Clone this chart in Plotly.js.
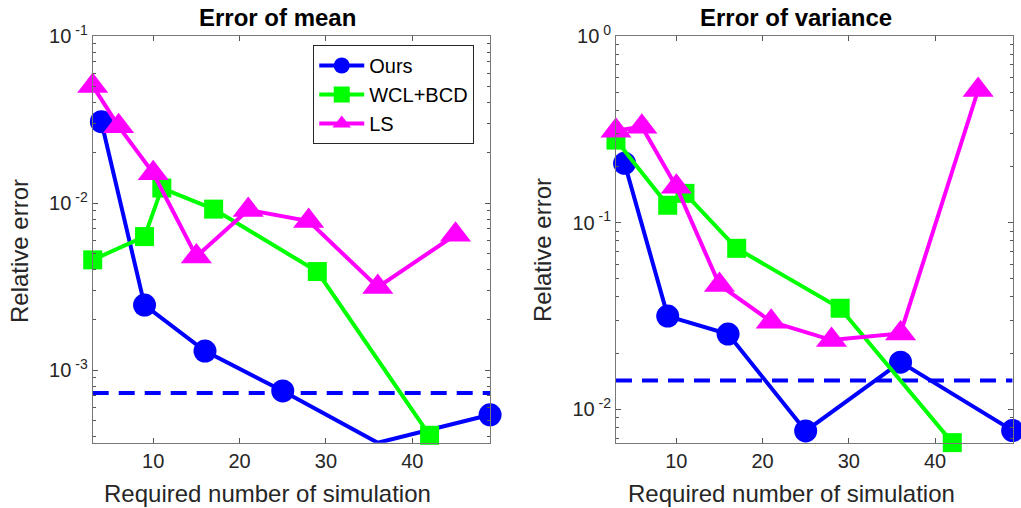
<!DOCTYPE html>
<html>
<head>
<meta charset="utf-8">
<script src="https://cdn.plot.ly/plotly-3.0.1.min.js"></script>
<style>html,body{margin:0;padding:0;background:#fff;}#chart{width:1021px;height:508px;}</style>
</head>
<body>
<div id="chart"></div>
<script>
// ---- data ----
const seriesNames = ["Ours", "WCL+BCD", "LS"];
const oursX = [4, 9, 16, 25, 36, 49];
const wclX  = [3, 9, 11, 17, 29, 42];
const lsX   = [3, 6, 10, 15, 21, 28, 36, 45];

const meanOurs = [0.0307, 0.00245, 0.0013, 0.00075, 0.000367, 0.00054];
const meanWcl  = [0.00457, 0.0063, 0.0123, 0.0092, 0.00389, 0.000407];
const meanLs   = [0.0503, 0.0288, 0.0151, 0.00479, 0.0091, 0.0078, 0.00314, 0.00646];
const meanRef  = 0.00073;

const varOurs = [0.208, 0.0316, 0.0253, 0.00766, 0.0179, 0.00769];
const varWcl  = [0.277, 0.124, 0.1436, 0.0729, 0.0348, 0.00663];
const varLs   = [0.311, 0.327, 0.156, 0.0464, 0.0295, 0.0235, 0.0255, 0.514];
const varRef  = 0.01425;

const xRange = [3, 49];
const xTicks = [10, 20, 30, 40];
const meanYTicks = [0.001, 0.01, 0.1];
const meanYTickText = ["10<sup> -3</sup>", "10<sup> -2</sup>", "10<sup> -1</sup>"];
const varYTicks = [0.01, 0.1, 1];
const varYTickText = ["10<sup> -2</sup>", "10<sup> -1</sup>", "10<sup> 0</sup>"];
const titles = ["Error of mean", "Error of variance"];
const xTitle = "Required number of simulation";
const yTitle = "Relative error";

// ---- style ----
const BLUE = "#0000ff", GREEN = "#00ff00", MAGENTA = "#ff00ff";
const FONT = "Liberation Sans, Arial, Helvetica, sans-serif";

function series(x, y, name, color, symbol, size, xa, ya, show) {
  return {
    x: x, y: y, name: name, xaxis: xa, yaxis: ya, showlegend: show, legendgroup: name,
    mode: "lines+markers", cliponaxis: false,
    line: {color: color, width: 4},
    marker: {color: color, symbol: symbol, size: size, line: {width: 0}}
  };
}
function refLine(val, xa, ya) {
  return {
    x: xRange, y: [val, val], xaxis: xa, yaxis: ya, showlegend: false, mode: "lines",
    line: {color: BLUE, width: 4, dash: "16px,10px"}, hoverinfo: "skip"
  };
}

const data = [
  refLine(meanRef, "x", "y"),
  series(oursX, meanOurs, seriesNames[0], BLUE, "circle", 23, "x", "y", true),
  series(wclX, meanWcl, seriesNames[1], GREEN, "square", 19, "x", "y", true),
  series(lsX, meanLs, seriesNames[2], MAGENTA, "triangle-up", 27, "x", "y", true),
  refLine(varRef, "x2", "y2"),
  series(oursX, varOurs, seriesNames[0], BLUE, "circle", 23, "x2", "y2", false),
  series(wclX, varWcl, seriesNames[1], GREEN, "square", 19, "x2", "y2", false),
  series(lsX, varLs, seriesNames[2], MAGENTA, "triangle-up", 27, "x2", "y2", false)
];

function minorTicks(logRange) {
  const out = [];
  for (let e = Math.floor(logRange[0]); e < Math.ceil(logRange[1]); e++) {
    for (let m = 2; m <= 9; m++) {
      const v = m * Math.pow(10, e);
      const lv = Math.log10(v);
      if (lv > logRange[0] && lv < logRange[1]) out.push(v);
    }
  }
  return out;
}

function xAxis(domain, anchor) {
  return {
    domain: domain, anchor: anchor, range: xRange, tickmode: "array", tickvals: xTicks,
    ticks: "inside", ticklen: 5, tickcolor: "#555", mirror: "ticks",
    showline: true, linecolor: "#777", linewidth: 1, showgrid: false, zeroline: false,
    tickfont: {family: FONT, size: 20, color: "#262626"}
  };
}
function yAxis(domain, anchor, range, tv, tt) {
  return {
    domain: domain, anchor: anchor, type: "log", range: range,
    tickmode: "array", tickvals: tv, ticktext: tt,
    ticks: "inside", ticklen: 5, tickcolor: "#555", mirror: "ticks",
    minor: {tickmode: "array", tickvals: minorTicks(range), ticks: "inside", ticklen: 3, tickcolor: "#555", showgrid: false},
    showline: true, linecolor: "#777", linewidth: 1, showgrid: false, zeroline: false,
    tickfont: {family: FONT, size: 20, color: "#262626"}
  };
}

const yDom = [0.1285, 0.929];
function ann(text, px, py, size, color, angle) {
  return {text: text, x: px / 1021, y: 1 - py / 508, xref: "paper", yref: "paper",
    xanchor: "center", yanchor: "middle", showarrow: false, textangle: angle || 0,
    font: {family: FONT, size: size, color: color}};
}
const layout = {
  width: 1021, height: 508,
  margin: {l: 0, r: 0, t: 0, b: 0},
  paper_bgcolor: "#fff", plot_bgcolor: "#fff",
  font: {family: FONT, color: "#262626"},
  xaxis: xAxis([0.0908, 0.480], "y"),
  yaxis: yAxis(yDom, "x", [-3.435, -1], meanYTicks, meanYTickText),
  xaxis2: xAxis([0.6033, 0.9918], "y2"),
  yaxis2: yAxis(yDom, "x2", [-2.179, 0], varYTicks, varYTickText),
  legend: {
    x: 0.3068, y: 1 - 45 / 508, xanchor: "left", yanchor: "top",
    bgcolor: "#fff", bordercolor: "#262626", borderwidth: 1,
    font: {family: FONT, size: 20, color: "#000"},
    itemwidth: 45, tracegroupgap: 0
  },
  annotations: [
    ann("<b>" + titles[0] + "</b>", 277, 17, 24, "#000"),
    ann("<b>" + titles[1] + "</b>", 796, 17, 24, "#000"),
    ann(xTitle, 267, 493, 24, "#262626"),
    ann(xTitle, 791, 493, 24, "#262626"),
    ann(yTitle, 19, 251, 24, "#262626", -90),
    ann(yTitle, 542, 250, 24, "#262626", -90)
  ]
};

Plotly.newPlot("chart", data, layout, {staticPlot: true});
</script>
</body>
</html>
